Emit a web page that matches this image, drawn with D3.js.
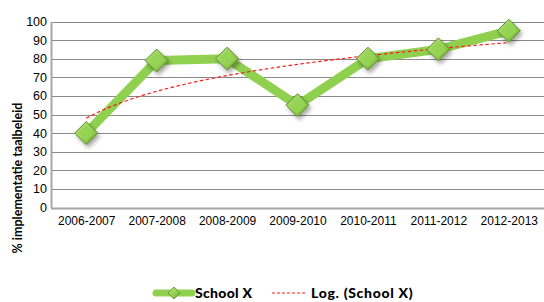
<!DOCTYPE html>
<html>
<head>
<meta charset="utf-8">
<script src="https://cdn.jsdelivr.net/npm/d3@7"></script>
<style>
  body { margin: 0; background: #fff; }
  svg { display: block; font-family: Lato, "DejaVu Sans", sans-serif; }
</style>
</head>
<body>
<div id="chart"></div>
<script>
// data
const years = ["2006-2007", "2007-2008", "2008-2009", "2009-2010", "2010-2011", "2011-2012", "2012-2013"];
const schoolX = [40, 79, 80, 55, 80, 85, 95];
const yTicks = [0, 10, 20, 30, 40, 50, 60, 70, 80, 90, 100];
const seriesName = "School X";
const trendName = "Log. (School X)";
const yTitle = "% implementatie taalbeleid";

// excel style log trendline: y = a*ln(x) + b, x = 1..n
function logFit(vals) {
      const lx = vals.map((v, i) => Math.log(i + 1));
      const mx = d3.mean(lx), my = d3.mean(vals);
      let sxy = 0, sxx = 0;
      lx.forEach((l, i) => { sxy += (l - mx) * (vals[i] - my); sxx += (l - mx) * (l - mx); });
      const a = sxy / sxx, b = my - a * mx;
      return t => a * Math.log(t) + b;
}

const width = 544, height = 302;
const plotLeft = 51, plotRight = 544, plotTop = 21.5, plotBottom = 207.5;

const svg = d3.select("#chart").append("svg")
      .attr("width", width)
      .attr("height", height);

const defs = svg.append("defs");
const grad = defs.append("linearGradient").attr("id", "dia").attr("x1", "0").attr("y1", "0").attr("x2", "1").attr("y2", "1");
grad.append("stop").attr("offset", "0%").attr("stop-color", "#b4e37c");
grad.append("stop").attr("offset", "55%").attr("stop-color", "#93d152");
grad.append("stop").attr("offset", "100%").attr("stop-color", "#6e9e33");
const shadow = defs.append("filter").attr("id", "shadow").attr("x", "-50%").attr("y", "-50%").attr("width", "200%").attr("height", "200%");
shadow.append("feDropShadow").attr("dx", 2).attr("dy", 3).attr("stdDeviation", 2.2).attr("flood-color", "#000").attr("flood-opacity", 0.35);

const x = d3.scalePoint()
      .domain(years)
      .range([plotLeft, plotRight])
      .padding(0.5);

const y = d3.scaleLinear()
      .domain([0, 100])
      .range([plotBottom, plotTop]);

// gridlines
svg.append("g")
      .selectAll("line")
      .data(yTicks)
      .join("line")
      .attr("x1", plotLeft)
      .attr("x2", plotRight)
      .attr("y1", d => Math.round(y(d)) + 0.5)
      .attr("y2", d => Math.round(y(d)) + 0.5)
      .attr("stroke", d => d === 0 ? "#a6a6a6" : "#8a8a8a")
      .attr("stroke-width", d => d === 0 ? 2 : 1.2);

// y axis
const yAxis = svg.append("g")
      .attr("transform", `translate(${plotLeft},0)`)
      .call(d3.axisLeft(y).tickValues(yTicks).tickSize(0).tickPadding(4));
yAxis.select(".domain").attr("stroke", "#a6a6a6").attr("stroke-width", 2);
yAxis.selectAll("text").attr("font-size", 12.5).attr("fill", "#000");

// x axis labels
const xAxis = svg.append("g")
      .attr("transform", `translate(0,${plotBottom})`)
      .call(d3.axisBottom(x).tickSize(0).tickPadding(9));
xAxis.select(".domain").remove();
xAxis.selectAll("text").attr("font-size", 12).attr("fill", "#000");

svg.append("text")
      .attr("transform", "translate(22,178) rotate(-90)")
      .attr("text-anchor", "middle")
      .attr("font-size", 12.5)
      .attr("font-weight", "bold")
      .text(yTitle);

// series line
const line = d3.line()
      .x((d, i) => x(years[i]))
      .y(d => y(d));

svg.append("path")
      .datum(schoolX)
      .attr("fill", "none")
      .attr("stroke", "#8fd14f")
      .attr("stroke-width", 9)
      .attr("stroke-linejoin", "round")
      .attr("d", line);

// trendline
const fit = logFit(schoolX);
const tx = d3.scaleLinear().domain([1, years.length]).range([x(years[0]), x(years[years.length - 1])]);
const trendPts = d3.range(1, years.length + 0.001, 0.05);
svg.append("path")
      .datum(trendPts)
      .attr("fill", "none")
      .attr("stroke", "#ff1a1a")
      .attr("stroke-width", 1.2)
      .attr("stroke-dasharray", "3.5,2.5")
      .attr("d", d3.line().x(t => tx(t)).y(t => y(fit(t))));

// markers
function diamond(g, r) {
      g.append("path")
            .attr("d", `M0,${-r}L${r},0L0,${r}L${-r},0Z`)
            .attr("fill", "url(#dia)")
            .attr("stroke", "#5f8a2b")
            .attr("stroke-width", 1)
            .attr("filter", "url(#shadow)");
      g.append("path")
            .attr("d", `M0,${-r + 3.5}L${r - 3.5},0L0,${r - 3.5}L${-r + 3.5},0Z`)
            .attr("fill", "#94d455")
            .attr("opacity", 0.85);
}

svg.append("g")
      .selectAll("g")
      .data(schoolX)
      .join("g")
      .attr("transform", (d, i) => `translate(${x(years[i])},${y(d)})`)
      .each(function () { diamond(d3.select(this), 11.5); });

// legend
const leg = svg.append("g").attr("transform", "translate(0,293)");
leg.append("line")
      .attr("x1", 156).attr("x2", 192)
      .attr("stroke", "#8fd14f").attr("stroke-width", 7).attr("stroke-linecap", "round");
const lm = leg.append("g").attr("transform", "translate(174,0)");
lm.append("path").attr("d", "M0,-6L6,0L0,6L-6,0Z").attr("fill", "url(#dia)").attr("stroke", "#5f8a2b").attr("stroke-width", 0.8);
leg.append("text")
      .attr("x", 195).attr("y", 5)
      .attr("font-size", 14).attr("font-weight", "900")
      .attr("letter-spacing", 0.3)
      .text(seriesName);
leg.append("line")
      .attr("x1", 272).attr("x2", 307)
      .attr("stroke", "#ff1a1a").attr("stroke-width", 1).attr("stroke-dasharray", "3,2");
leg.append("text")
      .attr("x", 311).attr("y", 5)
      .attr("font-size", 14).attr("font-weight", "900")
      .attr("letter-spacing", 0.7)
      .text(trendName);
</script>
</body>
</html>
